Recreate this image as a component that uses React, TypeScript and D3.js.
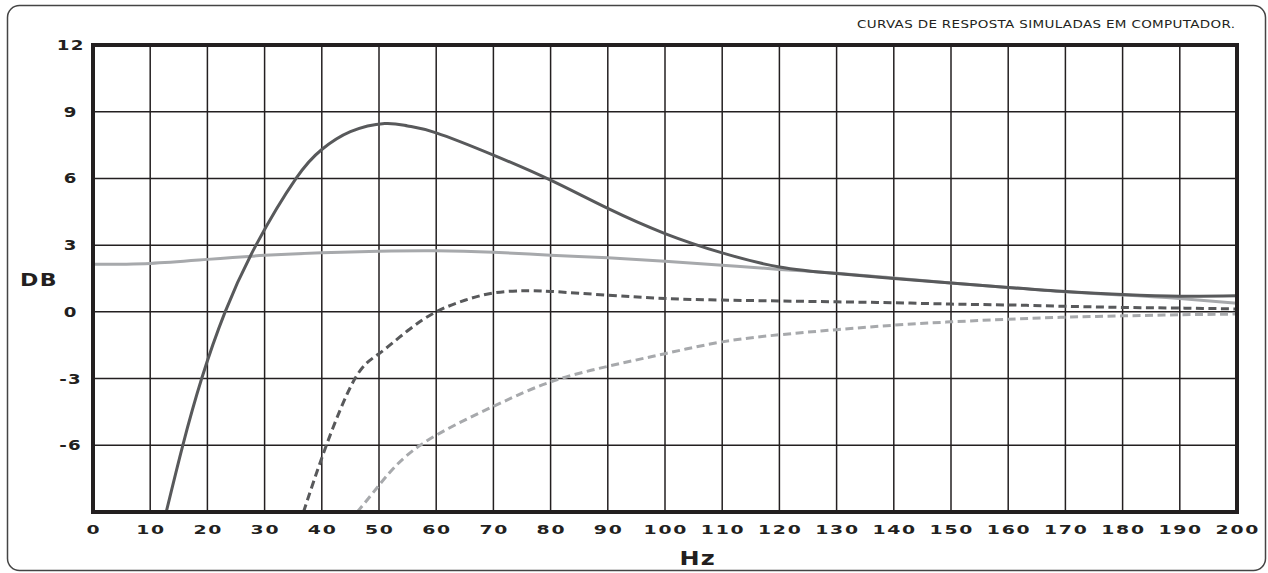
import React from 'react';
import * as d3 from 'd3';

// x ticks (Hz) and y ticks (dB)
const hzTicks = d3.range(0, 201, 10);
const dbTicks = [-9, -6, -3, 0, 3, 6, 9, 12];
const dbLabels = ['-6', '-3', '0', '3', '6', '9', '12'];

// dark solid curve
const darkSolidHz = [12.8, 15.7, 19, 23.1, 28.5, 35.5, 40, 45, 51, 55, 60, 70, 80, 90, 100, 110, 120, 130, 140, 150, 160, 170, 180, 190, 200];
const darkSolidDb = [-9, -6, -3, 0, 3, 6, 7.3, 8.1, 8.47, 8.36, 8.05, 7.05, 5.92, 4.65, 3.52, 2.65, 2.02, 1.72, 1.5, 1.3, 1.1, 0.91, 0.78, 0.7, 0.72];

// light solid curve
const lightSolidHz = [0, 10, 20, 30, 40, 50, 60, 70, 80, 90, 100, 110, 120, 130, 140, 150, 160, 170, 180, 190, 200];
const lightSolidDb = [2.14, 2.18, 2.36, 2.54, 2.66, 2.73, 2.75, 2.68, 2.55, 2.43, 2.28, 2.1, 1.91, 1.74, 1.52, 1.3, 1.1, 0.9, 0.76, 0.6, 0.39];

// dark dashed curve
const darkDashedHz = [36.8, 40.8, 45.8, 50, 55, 60, 65, 70, 75, 80, 90, 100, 110, 120, 130, 140, 150, 160, 170, 180, 190, 200];
const darkDashedDb = [-9, -6, -3, -1.88, -0.85, 0, 0.52, 0.85, 0.95, 0.92, 0.75, 0.6, 0.53, 0.49, 0.45, 0.41, 0.35, 0.31, 0.25, 0.2, 0.17, 0.13];

// light dashed curve
const lightDashedHz = [46.2, 50, 57.2, 70, 80, 90, 100, 110, 120, 130, 140, 150, 160, 170, 180, 190, 200];
const lightDashedDb = [-9, -7.8, -6, -4.25, -3.15, -2.45, -1.88, -1.35, -1.03, -0.8, -0.6, -0.45, -0.33, -0.24, -0.18, -0.13, -0.1];

const W = 1268;
const H = 573;
const margin = { top: 45, right: 31, bottom: 61, left: 93 };
const ink = '#231f20';
const dark = '#58595b';
const light = '#a7a9ac';
const font = '"DejaVu Sans", Verdana, sans-serif';

// wide lettering: horizontal stretch of a bold sans
const Wide = ({ x, y, sx, size, ls = 1, anchor = 'middle', children }: any) => (
  <text transform={`translate(${x},${y}) scale(${sx},1)`} dx={anchor === 'middle' ? ls / 2 : 0}
    textAnchor={anchor} fontFamily={font} fontWeight="bold" fontSize={size}
    letterSpacing={ls} fill={ink}>{children}</text>
);

const App = () => {
  const x = d3.scaleLinear().domain([0, 200]).range([margin.left, W - margin.right]);
  const y = d3.scaleLinear().domain([-9, 12]).range([H - margin.bottom, margin.top]);

  const line = d3.line<[number, number]>()
    .x(d => x(d[0]))
    .y(d => y(d[1]))
    .curve(d3.curveNatural);

  const zip = (a: number[], b: number[]) => a.map((v, i) => [v, b[i]] as [number, number]);

  const series = [
    { pts: zip(lightSolidHz, lightSolidDb), color: light, dash: undefined },
    { pts: zip(lightDashedHz, lightDashedDb), color: light, dash: '8 4.5' },
    { pts: zip(darkDashedHz, darkDashedDb), color: dark, dash: '8 4.5' },
    { pts: zip(darkSolidHz, darkSolidDb), color: dark, dash: undefined },
  ];

  const x0 = x(0), x1 = x(200), y0 = y(-9), y1 = y(12);

  return (
    <svg width={W} height={H} style={{ position: 'absolute', left: 0, top: 0, background: '#fff' }}>
      <defs>
        <clipPath id="plot">
          <rect x={x0} y={y1} width={x1 - x0} height={y0 - y1} />
        </clipPath>
      </defs>

      <rect x={7.5} y={5.5} width={1258} height={565} rx={12} fill="none" stroke="#444" strokeWidth={1.5} />

      <text transform="translate(857,27.5) scale(1.35,1)" fontFamily={font} fontSize={10} fill={ink}
        textLength={378 / 1.35} lengthAdjust="spacing">
        CURVAS DE RESPOSTA SIMULADAS EM COMPUTADOR.
      </text>

      {/* grid */}
      {hzTicks.slice(1, -1).map(t => (
        <line key={'v' + t} x1={x(t)} x2={x(t)} y1={y1} y2={y0} stroke={ink} strokeWidth={1.5} />
      ))}
      {dbTicks.slice(1, -1).map(t => (
        <line key={'h' + t} x1={x0} x2={x1} y1={y(t)} y2={y(t)} stroke={ink} strokeWidth={1.5} />
      ))}

      {/* curves */}
      <g clipPath="url(#plot)">
        {series.map((s, i) => (
          <path key={i} d={line(s.pts) || ''} fill="none" stroke={s.color} strokeWidth={3}
            strokeDasharray={s.dash} />
        ))}
      </g>

      <rect x={x0} y={y1} width={x1 - x0} height={y0 - y1} fill="none" stroke={ink} strokeWidth={4} />

      {/* y labels */}
      {dbLabels.map(l => (
        <Wide key={'yl' + l} x={70} y={y(+l) + 5} sx={1.3} size={14}>{l}</Wide>
      ))}
      <Wide x={20} y={285.5} sx={1.3} size={17} ls={1} anchor="start">DB</Wide>

      {/* x labels */}
      {hzTicks.map(t => (
        <Wide key={'xl' + t} x={x(t)} y={534} sx={1.45} size={13} ls={1.2}>{t}</Wide>
      ))}
      <Wide x={697} y={565} sx={1.2} size={20} ls={1}>Hz</Wide>
    </svg>
  );
};

export default App;
